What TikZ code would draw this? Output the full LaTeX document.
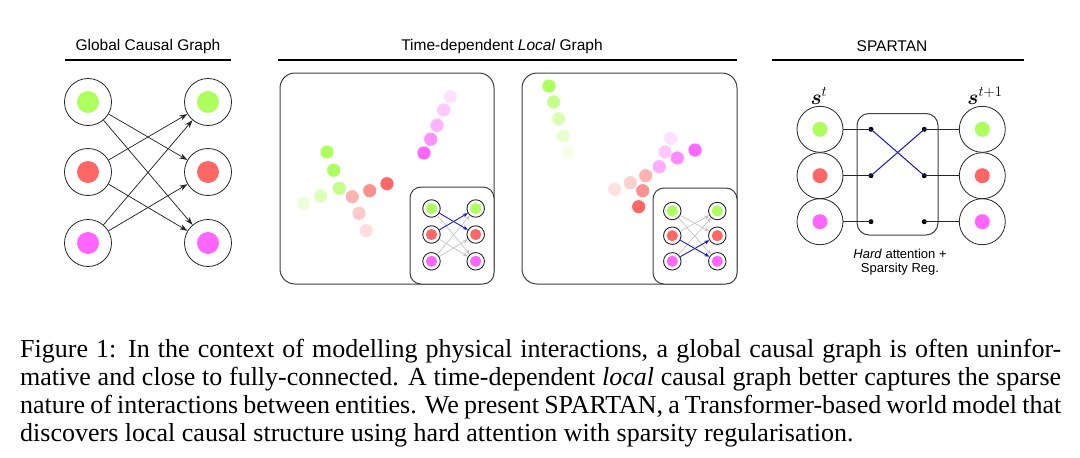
\RequirePackage{fix-cm}
\documentclass[tikz,border=0pt]{standalone}
\usepackage{amsmath}
\usepackage{fontspec}
\setmainfont{Liberation Serif}
\newfontfamily\arialf{Liberation Sans}
\usetikzlibrary{arrows.meta}
\definecolor{colG}{RGB}{172,255,92}
\definecolor{colR}{RGB}{255,102,102}
\definecolor{colM}{RGB}{255,102,255}
\definecolor{colB}{RGB}{20,20,205}
\definecolor{colGrey}{RGB}{195,195,195}
\begin{document}
\begin{tikzpicture}[x=1pt,y=-1pt,
  bignode/.style={circle,draw=black!85,line width=0.8pt,minimum size=47pt,inner sep=0pt},
  spnode/.style={circle,draw=black!85,line width=0.8pt,minimum size=46pt,inner sep=0pt},
  smallnode/.style={circle,draw=black!85,line width=0.9pt,minimum size=17.5pt,inner sep=0pt},
  bdot/.style={circle,fill=black,minimum size=5pt,inner sep=0pt},
  arr/.style={draw=black!85,line width=0.75pt,-{Stealth[length=8pt,width=5.5pt]}},
  sarrg/.style={draw=colGrey,line width=0.7pt,-{Stealth[length=5pt,width=4pt]}},
  sarrb/.style={draw=colB,line width=0.85pt,-{Stealth[length=5pt,width=4pt]}},
  boxframe/.style={draw=black!75,line width=1pt},
  paneltitle/.style={font=\arialf\fontsize{15.5}{18}\selectfont},
  hline/.style={line width=2pt},
  captxt/.style={anchor=base west,inner sep=0pt,font=\fontsize{26}{28}\selectfont}
]
\useasboundingbox[fill=white] (0,0) rectangle (1080,458);

% ---------- Global Causal Graph ----------
\node[paneltitle] (t1) at (148,46) {Global Causal Graph};
\draw[hline] (65,60) -- (231,60);
\foreach \n/\y/\c in {1/102/colG,2/172/colR,3/243/colM}{
  \node[bignode] (gL\n) at (88,\y) {};
  \node[bignode] (gR\n) at (208,\y) {};
  \fill[\c] (gL\n.center) circle (11pt);
  \fill[\c] (gR\n.center) circle (11pt);
}
\draw[arr] (gL1) -- (gR2);
\draw[arr] (gL1) -- (gR3);
\draw[arr] (gL2) -- (gR1);
\draw[arr] (gL2) -- (gR3);
\draw[arr] (gL3) -- (gR1);
\draw[arr] (gL3) -- (gR2);

% ---------- Time-dependent Local Graph ----------
\node[paneltitle] (t2) at (502,46) {Time-dependent \textit{Local} Graph};
\draw[hline] (278,60) -- (737,60);

% box 1
\draw[boxframe,rounded corners=15pt] (280,73) rectangle (494,284);
\foreach \x/\y/\o in {303.7/203.3/0.22,320.7/196/0.42,339.3/188.3/0.7,333.7/170.3/1,327/152/1}
  \fill[colG,fill opacity=\o] (\x,\y) circle (6.6pt);
\foreach \x/\y/\o in {366.3/230.7/0.22,359/213.3/0.35,352.3/196.7/0.5,369.7/190.7/0.72,387/183.7/1}
  \fill[colR,fill opacity=\o] (\x,\y) circle (6.6pt);
\foreach \x/\y/\o in {450.3/96.7/0.2,443.7/110/0.35,437/125.3/0.5,430.7/139.3/0.72,424/153/1}
  \fill[colM,fill opacity=\o] (\x,\y) circle (6.6pt);
\draw[boxframe,fill=white,rounded corners=11pt] (410,187) rectangle (494,284);
\foreach \n/\y/\c in {1/208.5/colG,2/234.5/colR,3/261.3/colM}{
  \node[smallnode] (aL\n) at (431.5,\y) {};
  \node[smallnode] (aR\n) at (475.7,\y) {};
  \fill[\c] (aL\n.center) circle (5.6pt);
  \fill[\c] (aR\n.center) circle (5.6pt);
}
\draw[sarrg] (aL1) -- (aR3);
\draw[sarrg] (aL2) -- (aR3);
\draw[sarrg] (aL3) -- (aR1);
\draw[sarrg] (aL3) -- (aR2);
\draw[sarrb] (aL1) -- (aR2);
\draw[sarrb] (aL2) -- (aR1);

% box 2
\draw[boxframe,rounded corners=15pt] (522,73) rectangle (737,284);
\foreach \x/\y/\o in {568/152/0.15,563.3/136/0.28,558.7/118.7/0.45,553.7/102/0.72,549/86/1}
  \fill[colG,fill opacity=\o] (\x,\y) circle (6.6pt);
\foreach \x/\y/\o in {614.7/189.3/0.2,630.3/182.7/0.3,645.7/175.7/0.5,642.7/190.7/0.72,638.7/206.7/1}
  \fill[colR,fill opacity=\o] (\x,\y) circle (6.6pt);
\foreach \x/\y/\o in {670.7/138.3/0.2,665/152/0.35,659.3/166.7/0.55,677.3/158/0.75,695/150/1}
  \fill[colM,fill opacity=\o] (\x,\y) circle (6.6pt);
\draw[boxframe,fill=white,rounded corners=11pt] (653,188) rectangle (737,284);
\foreach \n/\y/\c in {1/211/colG,2/235.7/colR,3/261.3/colM}{
  \node[smallnode] (bL\n) at (672.3,\y) {};
  \node[smallnode] (bR\n) at (717.3,\y) {};
  \fill[\c] (bL\n.center) circle (5.6pt);
  \fill[\c] (bR\n.center) circle (5.6pt);
}
\draw[sarrg] (bL1) -- (bR2);
\draw[sarrg] (bL1) -- (bR3);
\draw[sarrg] (bL2) -- (bR1);
\draw[sarrg] (bL3) -- (bR1);
\draw[sarrb] (bL2) -- (bR3);
\draw[sarrb] (bL3) -- (bR2);

% ---------- SPARTAN ----------
\node[paneltitle] (t3) at (892,46) {SPARTAN};
\draw[hline] (772,60) -- (1024,60);
\node[font=\fontsize{21}{24}\selectfont] (st) at (819,96) {$\boldsymbol{s}^{t}$};
\node[font=\fontsize{21}{24}\selectfont] (st1) at (985,96) {$\boldsymbol{s}^{t+1}$};
\draw[boxframe,rounded corners=12pt] (857,113.5) rectangle (938,235);
\foreach \n/\y/\c in {1/129.3/colG,2/175.7/colR,3/221.7/colM}{
  \node[spnode] (sL\n) at (820,\y) {};
  \node[spnode] (sR\n) at (982.3,\y) {};
  \fill[\c] (sL\n.center) circle (7.5pt);
  \fill[\c] (sR\n.center) circle (7.5pt);
  \node[bdot] (p\n) at (871,\y) {};
  \node[bdot] (q\n) at (924.3,\y) {};
  \draw[black!85,line width=0.8pt] (sL\n) -- (p\n.center);
  \draw[black!85,line width=0.8pt] (q\n.center) -- (sR\n);
}
\draw[colB,line width=1pt] (p1.center) -- (q2.center);
\draw[colB,line width=1pt] (p2.center) -- (q1.center);
\node[font=\arialf\fontsize{13}{14.5}\selectfont,align=center] (lab) at (900,262) {\textit{Hard} attention +\\Sparsity Reg.};

% ---------- Caption ----------
\node[captxt] (c1) at (20,357) {\makebox[1041pt][s]{Figure 1: In the context of modelling physical interactions, a global causal graph is often uninfor-}};
\node[captxt] (c2) at (20,385) {\makebox[1041pt][s]{mative and close to fully-connected. A time-dependent \textit{local} causal graph better captures the sparse}};
\node[captxt] (c3) at (20,413) {\makebox[1041pt][s]{nature of interactions between entities. We present SPARTAN, a Transformer-based world model that}};
\node[captxt] (c4) at (20,441) {discovers local causal structure using hard attention with sparsity regularisation.};
\end{tikzpicture}
\end{document}
